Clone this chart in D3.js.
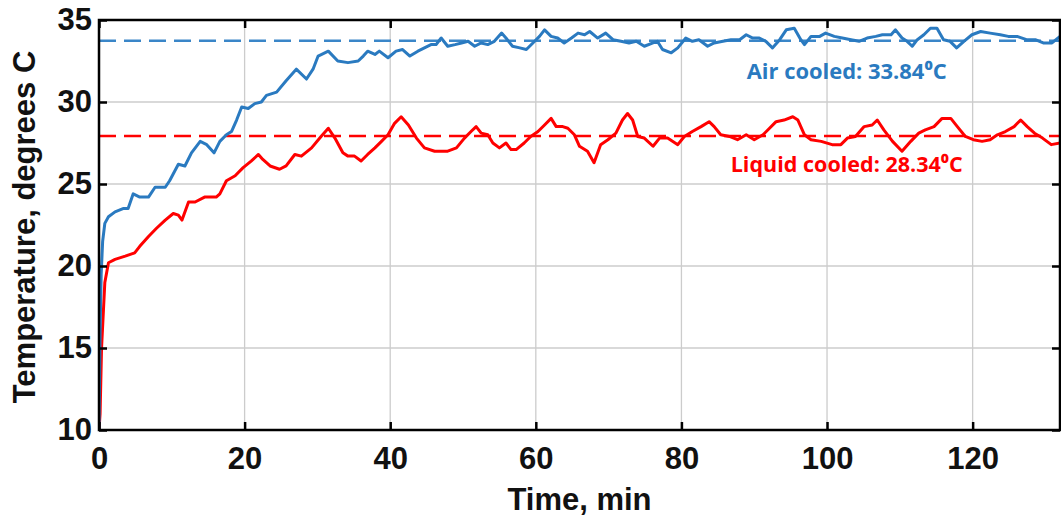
<!DOCTYPE html>
<html>
<head>
<meta charset="utf-8">
<script src="https://cdn.jsdelivr.net/npm/d3@7"></script>
<style>
  body { margin: 0; background: #fff; }
  svg { display: block; }
</style>
</head>
<body>
<div id="chart"></div>
<script>
// x ticks (minutes) and y ticks (degrees C)
var xTicks = [0, 20, 40, 60, 80, 100, 120];
var yTicks = [10, 15, 20, 25, 30, 35];

// [time in min, temperature]
var airCooled = [
    [0, 10], [0.15, 16], [0.3, 19.5], [0.5, 21.5], [0.8, 22.6], [1.3, 23.0], [2.2, 23.3], [3.3, 23.5],
    [4.0, 23.5], [4.7, 24.4], [5.6, 24.2], [6.8, 24.2], [7.7, 24.8], [9.1, 24.8], [9.7, 25.2], [10.9, 26.2],
    [11.8, 26.1], [12.7, 26.9], [13.9, 27.6], [14.8, 27.4], [15.8, 26.9], [16.6, 27.6], [17.5, 28.0], [18.2, 28.2],
    [18.9, 28.9], [19.6, 29.7], [20.5, 29.6], [21.4, 29.9], [22.3, 30.0], [23.0, 30.4], [24.4, 30.6], [25.7, 31.3],
    [27.1, 32.0], [28.5, 31.4], [29.4, 32.0], [30.1, 32.8], [31.5, 33.1], [32.8, 32.5], [34.2, 32.4], [35.6, 32.5],
    [36.3, 32.8], [36.9, 33.1], [37.9, 32.9], [38.5, 33.1], [39.7, 32.7], [40.8, 33.1], [41.7, 33.2], [42.7, 32.8],
    [43.8, 33.1], [44.7, 33.3], [45.6, 33.5], [46.3, 33.5], [47.0, 33.9], [47.9, 33.4], [48.9, 33.5], [49.8, 33.6],
    [50.7, 33.7], [51.6, 33.4], [52.5, 33.6], [53.4, 33.5], [54.3, 33.7], [55.3, 34.2], [55.9, 33.9], [56.8, 33.4],
    [57.8, 33.3], [58.7, 33.2], [59.6, 33.6], [60.5, 34.0], [61.2, 34.4], [62.1, 34.0], [63.0, 33.9], [63.9, 33.6],
    [64.9, 33.9], [65.8, 34.2], [66.7, 34.1], [67.4, 34.3], [68.5, 33.9], [69.6, 34.2], [70.6, 33.8], [71.7, 33.7],
    [72.8, 33.6], [73.8, 33.7], [74.9, 33.4], [76.1, 33.6], [76.7, 33.7], [77.4, 33.2], [78.6, 33.0], [79.5, 33.3],
    [80.6, 33.9], [81.5, 33.7], [82.4, 33.8], [83.6, 33.4], [84.5, 33.6], [85.7, 33.7], [86.8, 33.8], [88.0, 33.8],
    [88.9, 34.1], [89.8, 33.9], [90.7, 33.9], [91.6, 33.7], [92.5, 33.3], [93.5, 33.8], [94.4, 34.4], [95.5, 34.5],
    [96.4, 33.8], [96.9, 33.5], [97.8, 34.0], [99.0, 34.0], [99.8, 34.2], [101.0, 34.0], [102.1, 33.9], [103.3, 33.8],
    [104.4, 33.7], [105.5, 33.9], [106.7, 34.0], [107.6, 34.1], [108.8, 34.1], [109.4, 34.4], [110.3, 33.9], [111.0, 33.7],
    [111.7, 33.4], [112.4, 33.8], [113.3, 34.1], [114.2, 34.5], [115.1, 34.5], [116.0, 33.8], [116.9, 33.7], [117.8, 33.3],
    [118.8, 33.7], [119.9, 34.1], [121.1, 34.3], [122.4, 34.2], [123.8, 34.1], [124.9, 34.0], [126.1, 34.0], [127.4, 33.8],
    [128.6, 33.8], [129.7, 33.6], [130.9, 33.6], [132.0, 34.0]
];

var liquidCooled = [
    [0, 10], [0.15, 11], [0.35, 15], [0.8, 19], [1.3, 20.2], [2.2, 20.4], [3.6, 20.6], [4.9, 20.8],
    [5.6, 21.2], [6.8, 21.8], [7.9, 22.3], [9.1, 22.8], [10.2, 23.2], [10.9, 23.1], [11.4, 22.8], [12.3, 23.9],
    [13.2, 23.9], [14.5, 24.2], [16.1, 24.2], [16.6, 24.4], [17.5, 25.2], [18.7, 25.5], [19.8, 26.0], [20.9, 26.4],
    [21.9, 26.8], [22.5, 26.5], [23.5, 26.1], [24.8, 25.9], [25.7, 26.1], [26.9, 26.8], [27.8, 26.7], [29.2, 27.2],
    [30.5, 27.9], [31.5, 28.4], [32.4, 27.8], [33.5, 26.9], [34.2, 26.7], [35.1, 26.7], [36.0, 26.4], [36.9, 26.8],
    [37.9, 27.2], [38.8, 27.6], [39.7, 28.0], [40.6, 28.7], [41.5, 29.1], [42.5, 28.6], [43.6, 27.8], [44.7, 27.2],
    [46.1, 27.0], [47.9, 27.0], [49.1, 27.2], [50.2, 27.8], [51.1, 28.2], [51.8, 28.5], [52.5, 28.1], [53.4, 28.0],
    [54.1, 27.5], [55.0, 27.2], [55.9, 27.5], [56.6, 27.1], [57.3, 27.1], [58.4, 27.5], [59.3, 27.9], [60.3, 28.2],
    [61.2, 28.6], [62.1, 29.0], [62.8, 28.5], [63.7, 28.5], [64.4, 28.4], [65.3, 28.0], [66.0, 27.3], [67.1, 27.0],
    [68.0, 26.3], [68.9, 27.4], [69.9, 27.7], [71.0, 28.1], [71.9, 28.9], [72.6, 29.3], [73.3, 28.9], [74.0, 27.9],
    [74.9, 27.8], [76.1, 27.3], [77.0, 27.8], [78.1, 27.8], [79.5, 27.4], [80.4, 27.9], [81.5, 28.2], [82.7, 28.5],
    [83.8, 28.8], [84.5, 28.5], [85.4, 28.0], [86.6, 27.9], [87.7, 27.7], [88.9, 28.0], [90.0, 27.7], [91.2, 28.0],
    [92.1, 28.4], [93.0, 28.8], [94.1, 28.9], [95.3, 29.1], [96.0, 28.9], [96.9, 28.0], [97.8, 27.7], [99.2, 27.6],
    [100.7, 27.4], [101.9, 27.4], [102.8, 27.8], [103.9, 27.9], [105.1, 28.5], [106.2, 28.6], [106.9, 28.9], [107.8, 28.3],
    [109.0, 27.6], [110.3, 27.0], [111.5, 27.6], [112.6, 28.1], [113.5, 28.3], [114.7, 28.5], [115.8, 29.0], [117.0, 29.0],
    [117.9, 28.5], [119.0, 27.9], [120.1, 27.7], [121.3, 27.6], [122.4, 27.7], [123.4, 28.0], [124.5, 28.2], [125.7, 28.5],
    [126.6, 28.9], [127.5, 28.5], [128.5, 28.1], [129.6, 27.8], [130.8, 27.4], [132.0, 27.5]
];

// dashed average lines, as drawn
var averages = [33.74, 27.93];
var labels = ["Air cooled: 33.84\u2070C", "Liquid cooled: 28.34\u2070C"];
var colors = ["#2a7ac0", "#ff0000"];

var width = 1061, height = 519;
var margin = { top: 20, right: 1, bottom: 89, left: 99 };
var w = width - margin.left - margin.right,
    h = height - margin.top - margin.bottom;

var svg = d3.select("#chart").append("svg")
    .attr("width", width)
    .attr("height", height)
    .style("background", "#fff");

var g = svg.append("g").attr("transform", "translate(" + margin.left + "," + margin.top + ")");

var x = d3.scaleLinear().domain([0, 132]).range([0, w]);
var y = d3.scaleLinear().domain([10, 35]).range([h, 0]);

// grid
g.append("g")
    .selectAll("line.vgrid")
    .data(xTicks.slice(1))
    .join("line")
    .attr("x1", d => x(d)).attr("x2", d => x(d))
    .attr("y1", 0).attr("y2", h)
    .attr("stroke", "#cccccc").attr("stroke-width", 1.3);
g.append("g")
    .selectAll("line.hgrid")
    .data(yTicks.slice(1, -1))
    .join("line")
    .attr("x1", 0).attr("x2", w)
    .attr("y1", d => y(d)).attr("y2", d => y(d))
    .attr("stroke", "#cccccc").attr("stroke-width", 1.3);

// clip for the data
svg.append("defs").append("clipPath").attr("id", "plot")
    .append("rect").attr("width", w).attr("height", h);

var plot = g.append("g").attr("clip-path", "url(#plot)");

// dashed averages
plot.selectAll("line.avg")
    .data(averages)
    .join("line")
    .attr("x1", 0).attr("x2", w)
    .attr("y1", d => y(d)).attr("y2", d => y(d))
    .attr("stroke", (d, i) => i == 0 ? "#3a86c8" : colors[1])
    .attr("stroke-width", 2.5)
    .attr("stroke-dasharray", "17,8");

var line = d3.line().x(d => x(d[0])).y(d => y(d[1]));

plot.selectAll("path.series")
    .data([liquidCooled, airCooled])
    .join("path")
    .attr("d", line)
    .attr("fill", "none")
    .attr("stroke", (d, i) => i == 0 ? colors[1] : colors[0])
    .attr("stroke-width", 3)
    .attr("stroke-linejoin", "round");

// axes with inward ticks
var tickStyle = function (sel) {
    sel.select(".domain").remove();
    sel.selectAll(".tick line").attr("stroke", "#000").attr("stroke-width", 2.5);
    sel.selectAll("text")
        .attr("fill", "#111")
        .style("font-family", "'Liberation Sans', Arial, sans-serif")
        .style("font-weight", "bold")
        .style("font-size", "31px");
};

g.append("g").attr("transform", "translate(0," + h + ")")
    .call(d3.axisBottom(x).tickValues(xTicks).tickSizeInner(-8).tickSizeOuter(0).tickPadding(17))
    .call(tickStyle);
g.append("g")
    .call(d3.axisLeft(y).tickValues(yTicks).tickSizeInner(-8).tickSizeOuter(0).tickPadding(7))
    .call(tickStyle);
g.append("g")
    .call(d3.axisTop(x).tickValues(xTicks).tickSizeInner(-8).tickSizeOuter(0).tickFormat(""))
    .call(tickStyle);
g.append("g").attr("transform", "translate(" + w + ",0)")
    .call(d3.axisRight(y).tickValues(yTicks).tickSizeInner(-8).tickSizeOuter(0).tickFormat(""))
    .call(tickStyle);

// frame
g.append("rect")
    .attr("width", w).attr("height", h)
    .attr("fill", "none")
    .attr("stroke", "#000")
    .attr("stroke-width", 2.5);

// annotations
var notePos = [[102.7, 31.4], [102.7, 25.73]];
g.selectAll("text.note")
    .data(labels)
    .join("text")
    .attr("x", (d, i) => x(notePos[i][0]))
    .attr("y", (d, i) => y(notePos[i][1]))
    .attr("text-anchor", "middle")
    .attr("fill", (d, i) => colors[i])
    .attr("textLength", (d, i) => i == 0 ? 200 : 232)
    .attr("lengthAdjust", "spacingAndGlyphs")
    .style("font-family", "'Open Sans', sans-serif")
    .style("font-weight", "bold")
    .style("font-size", "21px")
    .text(d => d);

// axis titles
svg.append("text")
    .attr("x", margin.left + w / 2)
    .attr("y", 510)
    .attr("text-anchor", "middle")
    .attr("fill", "#111")
    .style("font-family", "'Liberation Sans', Arial, sans-serif")
    .style("font-weight", "bold")
    .style("font-size", "31px")
    .text("Time, min");

svg.append("text")
    .attr("transform", "translate(35," + (margin.top + h / 2 + 2) + ") rotate(-90)")
    .attr("text-anchor", "middle")
    .attr("fill", "#111")
    .style("font-family", "'Liberation Sans', Arial, sans-serif")
    .style("font-weight", "bold")
    .style("font-size", "31px")
    .text("Temperature, degrees C");
</script>
</body>
</html>
